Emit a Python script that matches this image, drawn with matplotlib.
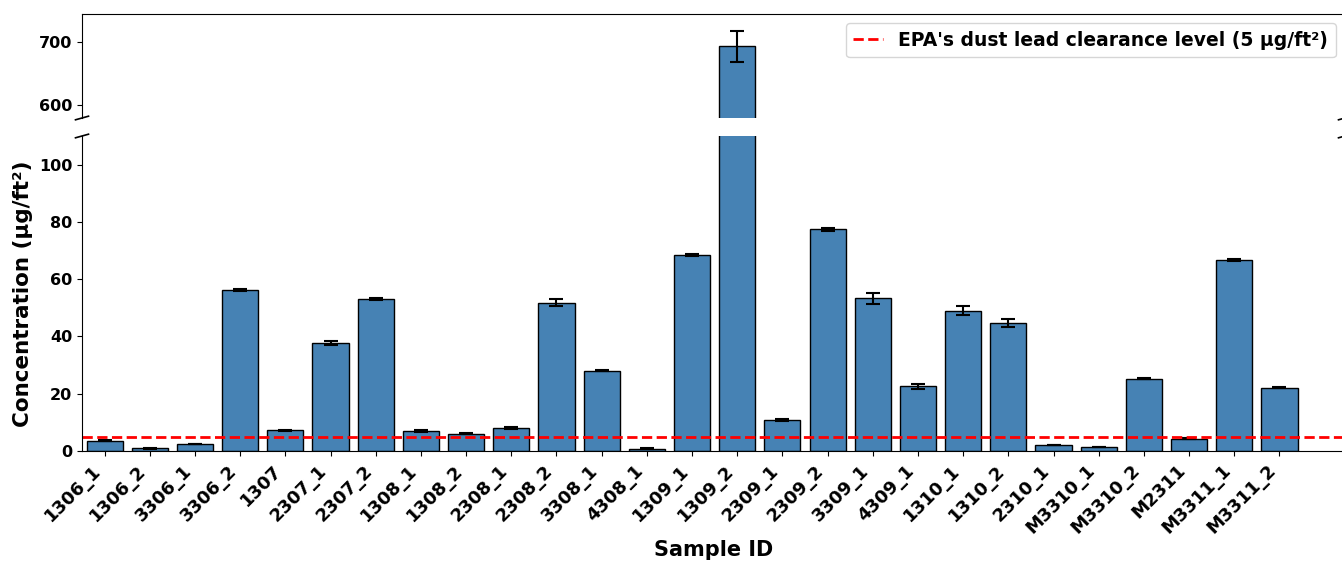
import numpy as np
import matplotlib.pyplot as plt

samples = ['1306_1', '1306_2', '3306_1', '3306_2', '1307', '2307_1', '2307_2',
           '1308_1', '1308_2', '2308_1', '2308_2', '3308_1', '4308_1',
           '1309_1', '1309_2', '2309_1', '2309_2', '3309_1', '4309_1',
           '1310_1', '1310_2', '2310_1', 'M3310_1', 'M3310_2', 'M2311',
           'M3311_1', 'M3311_2']
conc = [3.6, 0.9, 2.4, 56.2, 7.2, 37.7, 53.1,
        7.1, 6.0, 8.0, 51.8, 28.0, 0.8,
        68.5, 693.5, 10.9, 77.4, 53.4, 22.6,
        49.0, 44.8, 2.1, 1.4, 25.3, 4.3,
        66.7, 22.1]
err = [0.2, 0.1, 0.1, 0.5, 0.2, 0.6, 0.4,
       0.3, 0.2, 0.3, 1.2, 0.2, 0.1,
       0.3, 25.0, 0.4, 0.4, 1.9, 0.9,
       1.5, 1.4, 0.1, 0.1, 0.3, 0.2,
       0.3, 0.2]
epa_level = 5

W, H = 1342, 565
fig = plt.figure(figsize=(W / 100, H / 100), dpi=100)

left = 82 / W
width = (1345 - 82) / W
top_h = 118 - 14
bot_h = 451 - 136
ax_top = fig.add_axes([left, (H - 118) / H, width, top_h / H])
ax_bot = fig.add_axes([left, (H - 451) / H, width, bot_h / H])

x = np.arange(len(samples))
for ax in (ax_top, ax_bot):
    ax.bar(x, conc, width=0.8, color='#4682B4', edgecolor='black', linewidth=1,
           yerr=err, capsize=5, error_kw=dict(elinewidth=1.5, capthick=1.5, ecolor='black'))
    ax.axhline(epa_level, color='red', linestyle='--', linewidth=2,
               label="EPA's dust lead clearance level (5 µg/ft²)")
    ax.set_xlim(-0.5, 27.45)

ax_top.set_ylim(580, 745)
ax_bot.set_ylim(0, 110)
ax_top.set_yticks([600, 700])
ax_bot.set_yticks([0, 20, 40, 60, 80, 100])

ax_top.spines['bottom'].set_visible(False)
ax_bot.spines['top'].set_visible(False)
ax_top.tick_params(axis='x', bottom=False, labelbottom=False)
for ax in (ax_top, ax_bot):
    ax.tick_params(axis='y', labelsize=11.5)
    for lab in ax.get_yticklabels():
        lab.set_fontweight('bold')

ax_bot.set_xticks(x)
ax_bot.set_xticklabels(samples, rotation=45, ha='right',
                       fontsize=13, fontweight='bold')
ax_bot.tick_params(axis='x', pad=4)

ax_bot.set_xlabel('Sample ID', fontsize=15, fontweight='bold', labelpad=2)
ax_bot.set_ylabel('Concentration (µg/ft²)', fontsize=15.5, fontweight='bold')

ax_top.legend(loc='upper right', prop={'weight': 'bold', 'size': 13.5},
              handlelength=1.6)

# break marks (half sizes in pixels)
wpx = W * width
dx, dy = 6.5 / wpx, 1.8
kw = dict(color='black', clip_on=False, linewidth=1.2)
for xs in (0, 1):
    ax_top.plot((xs - dx, xs + dx), (-dy / top_h, dy / top_h), transform=ax_top.transAxes, **kw)
    ax_bot.plot((xs - dx, xs + dx), (1 - dy / bot_h, 1 + dy / bot_h), transform=ax_bot.transAxes, **kw)

fig.savefig('out.png', dpi=100)
